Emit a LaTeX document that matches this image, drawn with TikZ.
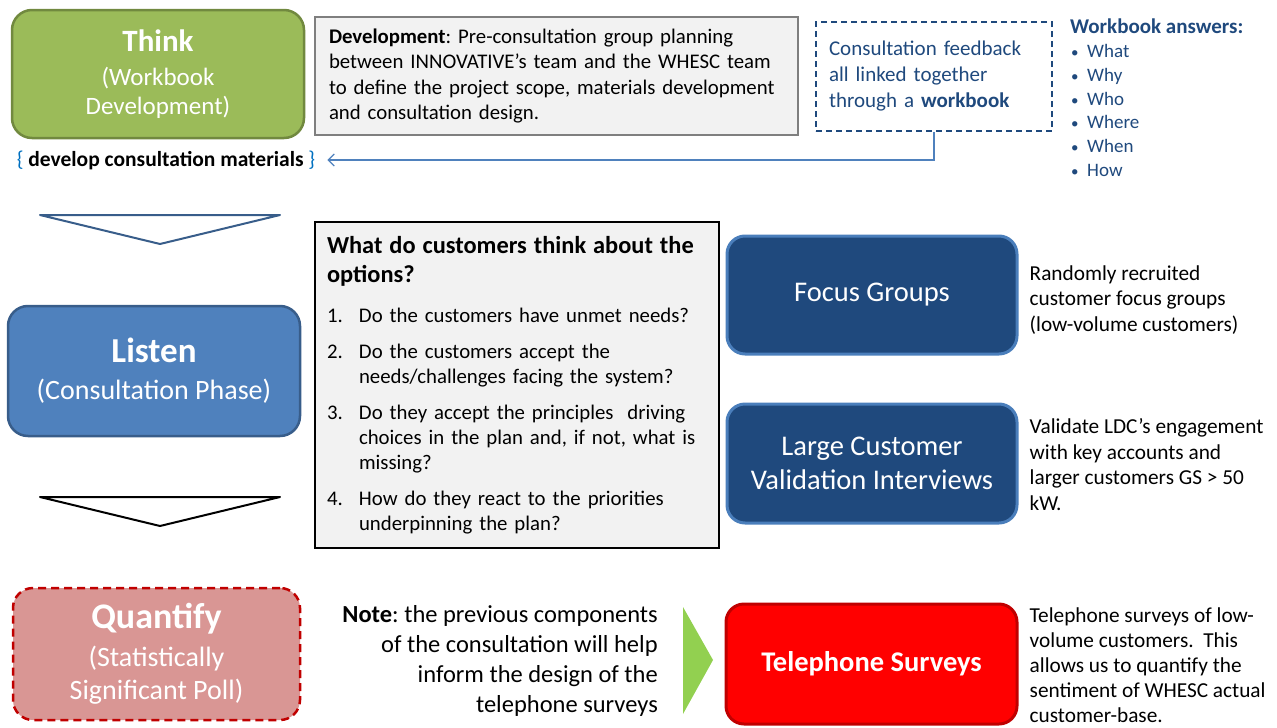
\documentclass[tikz,border=0pt]{standalone}
\usepackage{fontspec}
\setmainfont{Carlito}
\usepackage{xcolor}
\usetikzlibrary{arrows.meta, positioning}
\definecolor{thinkgreen}{HTML}{9BBB59}
\definecolor{thinkedge}{HTML}{71893F}
\definecolor{listenblue}{HTML}{4F81BD}
\definecolor{listenedge}{HTML}{385D8A}
\definecolor{navyfill}{HTML}{1F497D}
\definecolor{navyedge}{HTML}{4A7EBB}
\definecolor{quantpink}{HTML}{D99694}
\definecolor{quantedge}{HTML}{C00000}
\definecolor{telred}{HTML}{FF0000}
\definecolor{teledge}{HTML}{C00000}
\definecolor{panelgray}{HTML}{F2F2F2}
\definecolor{paneledge}{HTML}{7F7F7F}
\definecolor{wbblue}{HTML}{1F497D}
\definecolor{linkblue}{HTML}{4F81BD}
\definecolor{braceblue}{HTML}{0070C0}
\definecolor{arrowgreen}{HTML}{92D050}
\frenchspacing

\begin{document}
\begin{tikzpicture}[
  x=1pt, y=-1pt,
  phase/.style={rounded corners=20pt, line width=2.5pt, text=white,
                align=center, minimum width=292pt, minimum height=128pt,
                font=\fontsize{28}{33}\selectfont},
  method/.style={rounded corners=18pt, line width=3pt, text=white,
                 fill=navyfill, draw=navyedge, align=center,
                 minimum width=290pt, minimum height=118pt,
                 font=\fontsize{28.5}{34}\selectfont},
  panel/.style={fill=panelgray, align=left, inner xsep=12pt},
  side/.style={align=left, inner sep=0pt, font=\fontsize{21.3}{25.5}\selectfont},
  link/.style={-{Straight Barb[length=6pt, width=12pt]}, line width=1.2pt, linkblue}
]
\useasboundingbox (0,0) rectangle (1277,728);

% the three phases
\node[phase, fill=thinkgreen, draw=thinkedge, font=\fontsize{25}{29}\selectfont] (think) at (158,74)
  {{\fontsize{31}{31}\selectfont\bfseries Think}\\[5pt](Workbook\\Development)};
\node[phase, fill=listenblue, draw=listenedge, minimum height=130pt] (listen) at (154,371)
  {{\fontsize{35}{35}\selectfont\bfseries Listen}\\[4pt](Consultation Phase)};
\node[phase, fill=quantpink, draw=quantedge, dash pattern=on 8pt off 5pt,
      minimum width=287pt, minimum height=132pt] (quantify) at (156.5,654)
  {{\fontsize{36}{36}\selectfont\bfseries Quantify}\\[5pt](Statistically\\Significant Poll)};

\node[font=\fontsize{21.5}{25}\selectfont\bfseries, inner xsep=12pt] (materials) at (166,160)
  {\textcolor{braceblue}{\mdseries\{} develop consultation materials \textcolor{braceblue}{\mdseries\}}};

\draw[listenedge, line width=2pt, line join=round] (40,215) -- (280,215) -- (160,244) -- cycle;
\draw[black, line width=2pt, line join=round] (40,497) -- (280,497) -- (160,526) -- cycle;

% development and workbook
\node[panel, draw=paneledge, line width=2.5pt, minimum width=483pt, minimum height=118pt,
      text width=455pt, font=\fontsize{20.8}{25.5}\selectfont] (devt) at (556.5,76)
  {\textbf{Development}: Pre-consultation group planning\\between INNOVATIVE’s team and the WHESC team\\to define the project scope, materials development\\and consultation design.};
\node[draw=wbblue, dash pattern=on 6pt off 4pt, line width=1.5pt, minimum width=236pt, minimum height=109pt,
      text width=210pt, align=left, text=wbblue, font=\fontsize{21}{26}\selectfont] (wbook) at (934,76.5)
  {Consultation feedback\\all linked together\\through a \textbf{workbook}};
\node[anchor=north west, inner sep=0pt, align=left, text=wbblue,
      font=\fontsize{19}{23.7}\selectfont] (answers) at (1070,19)
  {{\fontsize{21}{23.7}\selectfont\bfseries Workbook answers:}\\
   \hspace*{1pt}\makebox[16pt][l]{\fontsize{15}{15}\selectfont•}What\\
   \hspace*{1pt}\makebox[16pt][l]{\fontsize{15}{15}\selectfont•}Why\\
   \hspace*{1pt}\makebox[16pt][l]{\fontsize{15}{15}\selectfont•}Who\\
   \hspace*{1pt}\makebox[16pt][l]{\fontsize{15}{15}\selectfont•}Where\\
   \hspace*{1pt}\makebox[16pt][l]{\fontsize{15}{15}\selectfont•}When\\
   \hspace*{1pt}\makebox[16pt][l]{\fontsize{15}{15}\selectfont•}How};
\draw[link] (wbook.south) |- (materials.east);

% consultation questions
\node[panel, draw=black, line width=2pt, minimum width=404pt, minimum height=326pt,
      text width=380pt, font=\fontsize{20.8}{25}\selectfont] (questions) at (517,385)
  {{\fontsize{24.4}{25}\selectfont\bfseries What do customers think about the}\\[4pt]
   {\fontsize{24.4}{25}\selectfont\bfseries options?}\\[15pt]
   \makebox[32pt][l]{1.}Do the customers have unmet needs?\\[11pt]
   \makebox[32pt][l]{2.}Do the customers accept the\\
   \hspace*{32pt}needs/challenges facing the system?\\[11pt]
   \makebox[32pt][l]{3.}Do they accept the principles\ \ driving\\
   \hspace*{32pt}choices in the plan and, if not, what is\\
   \hspace*{32pt}missing?\\[11pt]
   \makebox[32pt][l]{4.}How do they react to the priorities\\
   \hspace*{32pt}underpinning the plan?};

% consultation methods
\node[method] (focus) at (872,295) {Focus Groups};
\node[method, minimum height=119pt] (large) at (872,463.5) {Large Customer\\Validation Interviews};
\node[method, fill=telred, draw=teledge, minimum width=291pt, minimum height=120pt,
      font=\fontsize{28.5}{34}\selectfont\bfseries] (phone) at (871.5,664) {Telephone Surveys};

\node[side, right=11pt of focus, yshift=-5pt] (focusnote)
  {Randomly recruited\\customer focus groups\\(low-volume customers)};
\node[side, right=11pt of large, yshift=-1pt] (largenote)
  {Validate LDC’s engagement\\with key accounts and\\larger customers GS > 50\\kW.};
\node[side, right=11pt of phone, yshift=-1pt, font=\fontsize{21.3}{25}\selectfont] (phonenote)
  {Telephone surveys of low-\\volume customers.\ \ This\\allows us to quantify the\\sentiment of WHESC actual\\customer-base.};

\node[align=right, anchor=east, inner sep=0pt, font=\fontsize{24.5}{30}\selectfont] (note) at (658,661)
  {\textbf{Note}: the previous components\\of the consultation will help\\inform the design of the\\telephone surveys};
\fill[arrowgreen] (683,607) -- (713,660) -- (683,714) -- cycle;
\end{tikzpicture}
\end{document}
